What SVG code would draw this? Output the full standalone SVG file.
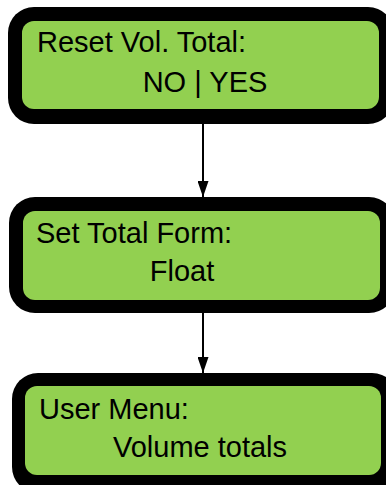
<svg xmlns="http://www.w3.org/2000/svg" width="386" height="485" viewBox="0 0 386 485">
<defs>
<style>
.outer{fill:#000}
.inner{fill:#92d050}
.t{font-family:"Liberation Sans",Arial,sans-serif;font-size:29px;fill:#000}
.c{stroke:#000;stroke-width:2;fill:none}
</style>
<marker id="ah" markerWidth="16" markerHeight="11" refX="16" refY="5.5" orient="auto" markerUnits="userSpaceOnUse">
<path d="M0,0 L16,5.5 L0,11 Z" fill="#000"/>
</marker>
</defs>
<g id="connectors">
<line class="c" x1="203" y1="124" x2="203" y2="197" marker-end="url(#ah)"/>
<line class="c" x1="203" y1="313" x2="203" y2="373" marker-end="url(#ah)"/>
</g>
<g id="node1">
<rect class="outer" x="8" y="7" width="386" height="117" rx="26"/>
<rect class="inner" x="22" y="21" width="357" height="88" rx="12"/>
<text class="t" x="37" y="52">Reset Vol. Total:</text>
<text class="t" x="205" y="92" text-anchor="middle">NO | YES</text>
</g>
<g id="node2">
<rect class="outer" x="9" y="197" width="386" height="116" rx="26"/>
<rect class="inner" x="23" y="211" width="357" height="89" rx="12"/>
<text class="t" x="36" y="243">Set Total Form:</text>
<text class="t" x="182" y="281" text-anchor="middle">Float</text>
</g>
<g id="node3">
<rect class="outer" x="12" y="373" width="386" height="120" rx="26"/>
<rect class="inner" x="25" y="386" width="356" height="89" rx="12"/>
<text class="t" x="39" y="419">User Menu:</text>
<text class="t" x="200" y="457" text-anchor="middle">Volume totals</text>
</g>
</svg>
